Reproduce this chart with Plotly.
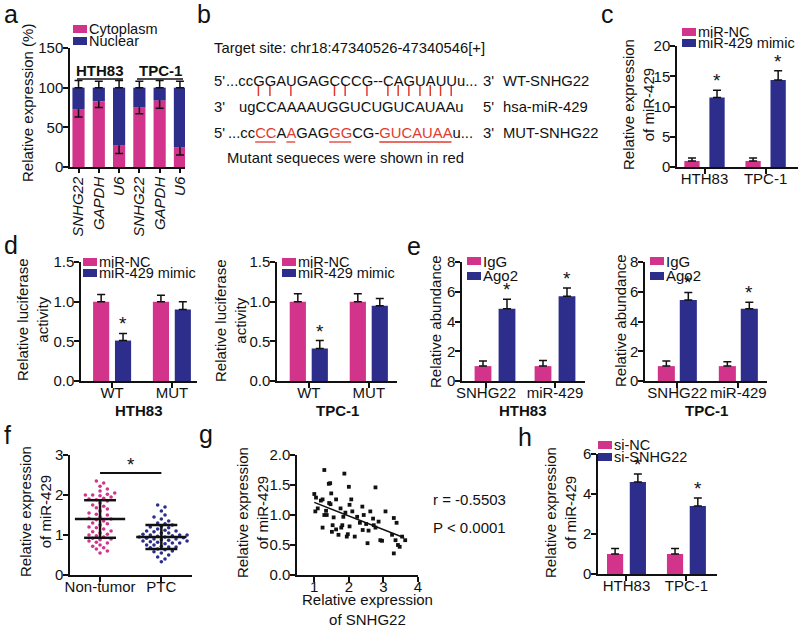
import numpy as np
import plotly.graph_objects as go

W, H = 800, 626
FONT = "Liberation Sans, Arial, Helvetica, sans-serif"
PINK = "#D2348B"
NAVY = "#2D2D8C"
RED = "#E23A30"
INK = "#111111"

# ---------------- data ----------------
# panel a
a_genes = ["SNHG22", "GAPDH", "U6", "SNHG22", "GAPDH", "U6"]
a_cells = ["HTH83", "TPC-1"]
a_cyto = [73, 83, 27, 75, 84, 25]
a_cyto_err = [10, 8, 10, 8, 10, 10]
a_nuc = [27, 17, 73, 25, 16, 75]
a_nuc_err = [9, 8, 9, 8, 9, 8]
a_series = ["Cytoplasm", "Nuclear"]

# panel b
b_title = "Target site: chr18:47340526-47340546[+]"
b_wt = "...ccGGAUGAGCCCG--CAGUAUUu..."
b_mir = "ugCCAAAAUGGUCUGUCAUAAu"
b_mut = "...ccCCAAGAGGGCG-GUCAUAAu..."
b_mut_red = [5, 6, 8, 12, 13, 17, 18, 19, 20, 21, 22, 23]
b_pairs = [5, 6, 8, 12, 13, 15, 18, 19, 20, 21, 22, 23, 24]
b_labels = ["WT-SNHG22", "hsa-miR-429", "MUT-SNHG22"]
b_note = "Mutant sequeces were shown in red"

# panel c
c_groups = ["HTH83", "TPC-1"]
c_series = ["miR-NC", "miR-429 mimic"]
c_nc = [1.0, 1.0]
c_nc_err = [0.5, 0.5]
c_mimic = [11.5, 14.4]
c_mimic_err = [1.2, 1.5]

# panel d
d_groups = ["WT", "MUT"]
d_cells = ["HTH83", "TPC-1"]
d1_nc = [1.0, 1.0]
d1_nc_err = [0.09, 0.08]
d1_mimic = [0.51, 0.90]
d1_mimic_err = [0.09, 0.10]
d2_nc = [1.0, 1.0]
d2_nc_err = [0.10, 0.10]
d2_mimic = [0.41, 0.95]
d2_mimic_err = [0.10, 0.09]

# panel e
e_groups = ["SNHG22", "miR-429"]
e_series = ["IgG", "Ago2"]
e1_igg = [1.0, 1.0]
e1_igg_err = [0.35, 0.38]
e1_ago = [4.85, 5.7]
e1_ago_err = [0.65, 0.55]
e2_igg = [1.0, 1.0]
e2_igg_err = [0.35, 0.30]
e2_ago = [5.45, 4.85]
e2_ago_err = [0.50, 0.45]

# panel f
f_groups = ["Non-tumor", "PTC"]
f_nontumor = [2.35, 2.3, 2.22, 2.15, 2.1, 2.05, 2.02, 2.0, 2.0, 1.98, 1.95, 1.92,
              1.9, 1.88, 1.85, 1.8, 1.75, 1.72, 1.68, 1.65, 1.6, 1.55, 1.52, 1.5,
              1.45, 1.42, 1.4, 1.38, 1.35, 1.3, 1.28, 1.25, 1.2, 1.18, 1.15, 1.1,
              1.08, 1.05, 1.02, 1.0, 0.98, 0.95, 0.92, 0.9, 0.88, 0.85, 0.82, 0.8,
              0.75, 0.72, 0.68, 0.65, 0.6, 0.55]
f_ptc = [1.75, 1.7, 1.6, 1.5, 1.45, 1.4, 1.35, 1.3, 1.28, 1.25, 1.22, 1.2, 1.18,
         1.15, 1.12, 1.1, 1.1, 1.08, 1.05, 1.05, 1.02, 1.0, 1.0, 1.0, 0.98, 0.97,
         0.95, 0.95, 0.93, 0.92, 0.9, 0.9, 0.88, 0.87, 0.85, 0.85, 0.83, 0.82, 0.8,
         0.8, 0.78, 0.75, 0.75, 0.72, 0.7, 0.7, 0.68, 0.65, 0.63, 0.6, 0.58, 0.55,
         0.5, 0.45, 0.4, 0.33]
f_mean = [1.40, 0.95]
f_sd = [0.47, 0.30]

# panel g
g_x = [1.0, 1.05, 1.29, 1.42, 1.46, 1.49, 1.03, 1.1, 1.24, 1.24, 1.34, 1.29, 1.36,
       1.47, 1.53, 1.56, 1.51, 1.63, 1.63, 1.7, 1.78, 1.81, 1.76, 1.84, 1.87, 1.9,
       1.94, 1.97, 2.0, 2.02, 2.02, 2.07, 2.1, 2.17, 2.24, 2.32, 2.39, 2.4, 2.43,
       2.5, 2.54, 2.57, 2.62, 2.7, 2.72, 2.77, 2.77, 2.86, 2.91, 2.96, 3.06, 3.25,
       3.3, 3.3, 3.35, 3.38, 3.42, 3.47, 3.54, 3.63, 1.19, 1.43]
g_y = [1.35, 1.29, 1.75, 1.52, 1.53, 1.36, 1.06, 1.11, 0.79, 1.26, 1.07, 1.0, 1.0,
       1.18, 0.83, 0.96, 0.72, 1.26, 0.76, 0.67, 0.79, 0.83, 1.11, 0.97, 1.69, 1.04,
       0.64, 0.68, 1.47, 1.17, 0.81, 1.26, 1.06, 0.64, 0.97, 0.87, 1.14, 0.75, 1.0,
       0.85, 0.53, 0.74, 1.06, 0.94, 0.83, 1.46, 0.79, 0.89, 0.58, 0.57, 1.06, 0.67,
       0.95, 0.36, 0.58, 0.87, 0.5, 0.47, 0.64, 0.58, 1.24, 1.2]
g_fit_x = [1.0, 3.6]
g_fit_y = [1.21, 0.62]
g_stats = ["r = -0.5503", "P < 0.0001"]

# panel h
h_groups = ["HTH83", "TPC-1"]
h_series = ["si-NC", "si-SNHG22"]
h_nc = [1.0, 1.0]
h_nc_err = [0.27, 0.27]
h_si = [4.6, 3.4]
h_si_err = [0.4, 0.4]


# ---------------- helpers ----------------
def PX(x):
    return x / W


def PY(y):
    return 1 - y / H


annotations = []
shapes = []
layout_axes = {}


def ann(text, x, y, size=15, xanchor="center", yanchor="middle", angle=0,
        color=INK, xref="paper", yref="paper", yshift=0):
    if xref == "paper":
        x = PX(x)
    if yref == "paper":
        y = PY(y)
    annotations.append(dict(text=text, x=x, y=y, xref=xref, yref=yref,
                            xanchor=xanchor, yanchor=yanchor, textangle=angle,
                            showarrow=False, borderpad=0, borderwidth=0,
                            yshift=yshift,
                            font=dict(family=FONT, size=size, color=color)))


def hline(x0, x1, y, color=INK, width=1.5):
    shapes.append(dict(type="line", xref="paper", yref="paper", x0=PX(x0),
                       x1=PX(x1), y0=PY(y), y1=PY(y),
                       line=dict(color=color, width=width)))


def vline(x, y0, y1, color=INK, width=1.5):
    shapes.append(dict(type="line", xref="paper", yref="paper", x0=PX(x),
                       x1=PX(x), y0=PY(y0), y1=PY(y1),
                       line=dict(color=color, width=width)))


def rect(x0, x1, y0, y1, color):
    shapes.append(dict(type="rect", xref="paper", yref="paper", x0=PX(x0),
                       x1=PX(x1), y0=PY(y0), y1=PY(y1), fillcolor=color,
                       line=dict(width=0)))


def axes(n, l, r, t, b, xr, yr, ytickvals, xtickvals, xticktext,
         ytickformat=None, xtickangle=0, xticklen=5, xstand=-8):
    sfx = "" if n == 1 else str(n)
    common = dict(showline=True, linecolor=INK, linewidth=1.5, ticks="outside",
                  tickcolor=INK, tickwidth=1.5, showgrid=False, zeroline=False,
                  automargin=False,
                  tickfont=dict(family=FONT, size=15, color=INK), fixedrange=True)
    layout_axes["xaxis" + sfx] = dict(common, domain=[PX(l), PX(r)], range=xr,
                                      anchor="y" + sfx, tickvals=xtickvals,
                                      ticktext=xticktext, tickangle=xtickangle,
                                      ticklen=xticklen, ticklabelstandoff=xstand)
    ydict = dict(common, domain=[PY(b), PY(t)], range=yr, anchor="x" + sfx,
                 tickvals=ytickvals, ticklen=5, ticklabelstandoff=-3)
    if ytickformat:
        ydict["tickformat"] = ytickformat
    layout_axes["yaxis" + sfx] = ydict
    return ("x" + sfx, "y" + sfx)


fig = go.Figure()


def bars(xa, ya, xs, vals, errs, color, width, sym=False):
    n = len(vals)
    err = dict(type="data", array=errs, color=INK, thickness=1.5, width=4,
               visible=True)
    if not sym:
        err.update(symmetric=False, arrayminus=[0] * n)
    fig.add_trace(go.Bar(x=xs, y=vals, width=width, xaxis=xa, yaxis=ya,
                         marker=dict(color=color, line=dict(width=0)),
                         error_y=err, showlegend=False, hoverinfo="skip"))


def stars(xa, ya, xs, tops, shift=-3):
    for x, t in zip(xs, tops):
        annotations.append(dict(text="*", x=x, y=t, xref=xa, yref=ya,
                                xanchor="center", yanchor="bottom",
                                showarrow=False, yshift=shift,
                                font=dict(family=FONT, size=19, color=INK)))


def legend(x0, rows, names, colors, sw=14, sh=8, size=15):
    for y, nm, col in zip(rows, names, colors):
        rect(x0, x0 + sw, y - sh / 2, y + sh / 2, col)
        ann(nm, x0 + sw + 2, y, size=size, xanchor="left")


def grouped(panel_axes, groups, s1, e1, s2, e2, off, w, star_idx=(0, 1),
            star_shift=-3):
    xa, ya = panel_axes
    idx = list(range(len(groups)))
    x1 = [i - off for i in idx]
    x2 = [i + off for i in idx]
    bars(xa, ya, x1, s1, e1, PINK, w)
    bars(xa, ya, x2, s2, e2, NAVY, w)
    stars(xa, ya, [x2[i] for i in star_idx],
          [s2[i] + e2[i] for i in star_idx], shift=star_shift)


# ---------------- panel a ----------------
ax_a = axes(1, 70, 185, 48, 167, [-0.42, 5.25], [0, 150], [0, 50, 100, 150],
            list(range(len(a_genes))), ["<i>%s</i>" % g for g in a_genes],
            xtickangle=-90, xticklen=4, xstand=-2)
bars(ax_a[0], ax_a[1], list(range(len(a_genes))), a_cyto, a_cyto_err, PINK,
     0.6, sym=True)
fig.add_trace(go.Bar(x=list(range(len(a_genes))), y=a_nuc, base=a_cyto,
                     width=0.6, xaxis=ax_a[0], yaxis=ax_a[1],
                     marker=dict(color=NAVY, line=dict(width=0)),
                     error_y=dict(type="data", array=a_nuc_err, symmetric=False,
                                  arrayminus=[0] * len(a_nuc), color=INK,
                                  thickness=1.5, width=4),
                     showlegend=False, hoverinfo="skip"))
legend(73, [29, 41], a_series, [PINK, NAVY], sw=14, sh=8, size=14.5)
ann("<b>%s</b>" % a_cells[0], 100, 71)
ann("<b>%s</b>" % a_cells[1], 160, 71)
hline(77, 123, 79)
hline(137, 183, 79)
ann("Relative expression (%)", 28, 103, angle=-90)

# ---------------- panel b ----------------
AW = {'.': 278, 'c': 500, 'u': 556, 'g': 556, 'G': 778, 'A': 667, 'U': 722,
      'C': 722, '-': 333}
BFS = 14.8


def char_pos(s, x0):
    out = []
    x = x0
    for ch in s:
        w = AW[ch] * BFS / 1000.0
        out.append((x, x + w))
        x += w
    return out


ann(b_title, 214, 48, size=BFS, xanchor="left")
rows_y = [81, 107, 133]
wt_x0, mir_x0, mut_x0 = 225.5, 238.5, 227.5
ann("5'", 214, rows_y[0], size=BFS, xanchor="left")
ann(b_wt, wt_x0, rows_y[0], size=BFS, xanchor="left")
ann("3'", 214, rows_y[1], size=BFS, xanchor="left")
ann(b_mir, mir_x0, rows_y[1], size=BFS, xanchor="left")
ann("5'", 214, rows_y[2], size=BFS, xanchor="left")
mut_html = ""
for i, ch in enumerate(b_mut):
    if i in b_mut_red:
        mut_html += '<span style="color:%s">%s</span>' % (RED, ch)
    else:
        mut_html += ch
ann(mut_html, mut_x0, rows_y[2], size=BFS, xanchor="left")
for y, end_label in zip(rows_y, ["3'", "5'", "3'"]):
    ann(end_label, 483, y, size=BFS, xanchor="left")
for y, lab in zip(rows_y, b_labels):
    ann(lab, 503, y, size=BFS, xanchor="left")
wt_pos = char_pos(b_wt, wt_x0)
for i in b_pairs:
    xc = (wt_pos[i][0] + wt_pos[i][1]) / 2
    vline(xc, 85, 96, color=RED, width=1.5)
mut_pos = char_pos(b_mut, mut_x0)
runs = []
for i in b_mut_red:
    if runs and runs[-1][1] == i - 1:
        runs[-1][1] = i
    else:
        runs.append([i, i])
for s, e in runs:
    hline(mut_pos[s][0] + 0.5, mut_pos[e][1] - 0.5, 142, color=RED, width=1.3)
ann(b_note, 227, 158, size=BFS, xanchor="left")

# ---------------- panel c ----------------
ax_c = axes(2, 677, 798, 46, 167, [-0.45, 1.53], [0, 20], [0, 5, 10, 15, 20],
            [0, 1], c_groups)
grouped(ax_c, c_groups, c_nc, c_nc_err, c_mimic, c_mimic_err, 0.205, 0.25)
legend(682, [32, 43], c_series, [PINK, NAVY], size=14.5)
ann("Relative expression<br>of miR-429", 638, 105, angle=-90)

# ---------------- panel d ----------------
ax_d1 = axes(3, 81, 197, 262, 381, [-0.52, 1.42], [0, 1.5],
             [0, 0.5, 1.0, 1.5], [0, 1], d_groups, ytickformat=".1f")
grouped(ax_d1, d_groups, d1_nc, d1_nc_err, d1_mimic, d1_mimic_err, 0.183,
        0.27, star_idx=(0,))
legend(83, [262, 273], c_series, [PINK, NAVY], size=14.5)
ann("Relative luciferase<br>activity", 32, 320, angle=-90)
ann("<b>%s</b>" % d_cells[0], 139, 410)

ax_d2 = axes(4, 277, 397, 262, 381, [-0.53, 1.47], [0, 1.5],
             [0, 0.5, 1.0, 1.5], [0, 1], d_groups, ytickformat=".1f")
grouped(ax_d2, d_groups, d2_nc, d2_nc_err, d2_mimic, d2_mimic_err, 0.183,
        0.27, star_idx=(0,))
legend(282, [262, 273], c_series, [PINK, NAVY], size=14.5)
ann("Relative luciferase<br>activity", 230, 320, angle=-90)
ann("<b>%s</b>" % d_cells[1], 337, 410)

# ---------------- panel e ----------------
ax_e1 = axes(5, 462, 585, 262, 381, [-0.55, 1.5], [0, 8], [0, 2, 4, 6, 8],
             [-0.15, 1], e_groups)
grouped(ax_e1, e_groups, e1_igg, e1_igg_err, e1_ago, e1_ago_err, 0.2, 0.28)
legend(467, [261, 276], e_series, [PINK, NAVY])
ann("Relative abundance", 435, 321, angle=-90)
ann("<b>%s</b>" % d_cells[0], 523, 410)

ax_e2 = axes(6, 645, 767, 262, 381, [-0.53, 1.47], [0, 8], [0, 2, 4, 6, 8],
             [0, 1], e_groups)
grouped(ax_e2, e_groups, e2_igg, e2_igg_err, e2_ago, e2_ago_err, 0.18, 0.28)
legend(650, [261, 276], e_series, [PINK, NAVY])
ann("Relative abundance", 620, 321, angle=-90)
ann("<b>%s</b>" % d_cells[1], 706, 410)

# ---------------- panel f ----------------
ax_f = axes(7, 70, 192, 455, 575, [-0.49, 1.5], [0, 3], [0, 1, 2, 3], [0, 1],
            f_groups)


def beeswarm(vals, ypx, xpx, dot=4.3):
    order = np.argsort(vals)
    placed = []
    offs = np.zeros(len(vals))
    cands = [0.0]
    for j in range(1, 30):
        cands += [j * dot * 0.85, -j * dot * 0.85]
    for i in order:
        y = vals[i] * ypx
        for c in cands:
            ok = True
            for (px_, py_) in placed:
                if (c - px_) ** 2 + (y - py_) ** 2 < dot ** 2:
                    ok = False
                    break
            if ok:
                break
        placed.append((c, y))
        offs[i] = c / xpx
    return offs


for gi, (vals, col) in enumerate([(f_nontumor, PINK), (f_ptc, NAVY)]):
    offs = beeswarm(vals, 40.0, 61.0)
    fig.add_trace(go.Scatter(x=[gi + o for o in offs], y=vals, mode="markers",
                             xaxis=ax_f[0], yaxis=ax_f[1],
                             marker=dict(color=col, size=3.6, line=dict(width=0)),
                             showlegend=False, hoverinfo="skip"))
mx, my = [], []
for gi, (m, s) in enumerate(zip(f_mean, f_sd)):
    mx += [gi - 0.41, gi + 0.41, None, gi - 0.26, gi + 0.26, None,
           gi - 0.26, gi + 0.26, None, gi, gi, None]
    my += [m, m, None, m + s, m + s, None, m - s, m - s, None, m - s, m + s,
           None]
fig.add_trace(go.Scatter(x=mx, y=my, mode="lines", xaxis=ax_f[0],
                         yaxis=ax_f[1], line=dict(color=INK, width=2.5),
                         showlegend=False, hoverinfo="skip"))
shapes.append(dict(type="line", xref=ax_f[0], yref=ax_f[1], x0=0, x1=1,
                   y0=2.55, y1=2.55, line=dict(color=INK, width=2)))
annotations.append(dict(text="*", x=0.5, y=2.55, xref=ax_f[0], yref=ax_f[1],
                        xanchor="center", yanchor="bottom", showarrow=False,
                        yshift=-4, font=dict(family=FONT, size=19, color=INK)))
ann("Relative expression<br>of miR-429", 35, 512, angle=-90)

# ---------------- panel g ----------------
ax_g = axes(8, 297, 418, 455, 575, [0.5, 4], [0, 2], [0, 0.5, 1.0, 1.5, 2.0],
            [1, 2, 3, 4], ["1", "2", "3", "4"], ytickformat=".1f")
fig.add_trace(go.Scatter(x=g_x, y=g_y, mode="markers", xaxis=ax_g[0],
                         yaxis=ax_g[1],
                         marker=dict(color=INK, size=3.8, symbol="square",
                                     line=dict(width=0)),
                         showlegend=False, hoverinfo="skip"))
fig.add_trace(go.Scatter(x=g_fit_x, y=g_fit_y, mode="lines", xaxis=ax_g[0],
                         yaxis=ax_g[1], line=dict(color=INK, width=1.5),
                         showlegend=False, hoverinfo="skip"))
ann(g_stats[0], 433, 499, xanchor="left")
ann(g_stats[1], 433, 527, xanchor="left")
ann("Relative expression<br>of miR-429", 252, 513, angle=-90)
ann("Relative expression<br>of SNHG22", 367, 609)

# ---------------- panel h ----------------
ax_h = axes(9, 598, 717, 454, 574, [-0.475, 1.51], [0, 6], [0, 2, 4, 6],
            [0, 1], h_groups)
grouped(ax_h, h_groups, h_nc, h_nc_err, h_si, h_si_err, 0.19, 0.27)
legend(598, [445, 457], h_series, [PINK, NAVY], size=14.5)
ann("Relative expression<br>of miR-429", 560, 513, angle=-90)

# ---------------- panel letters ----------------
for t, x, y in [("a", 11, 14), ("b", 204, 14), ("c", 607, 14), ("d", 11, 245),
                ("e", 414, 246), ("f", 7, 435), ("g", 206, 434), ("h", 525, 437)]:
    ann(t, x, y, size=25)

fig.update_layout(template="none", width=W, height=H,
                  margin=dict(l=0, r=0, t=0, b=0, pad=0, autoexpand=False),
                  paper_bgcolor="white", plot_bgcolor="white",
                  barmode="overlay", showlegend=False,
                  annotations=annotations, shapes=shapes,
                  font=dict(family=FONT, size=15, color=INK), **layout_axes)
fig.write_html("out.html", config={"displayModeBar": False},
               post_script="document.body.style.margin='0';"
                           "document.body.style.overflow='hidden';")
